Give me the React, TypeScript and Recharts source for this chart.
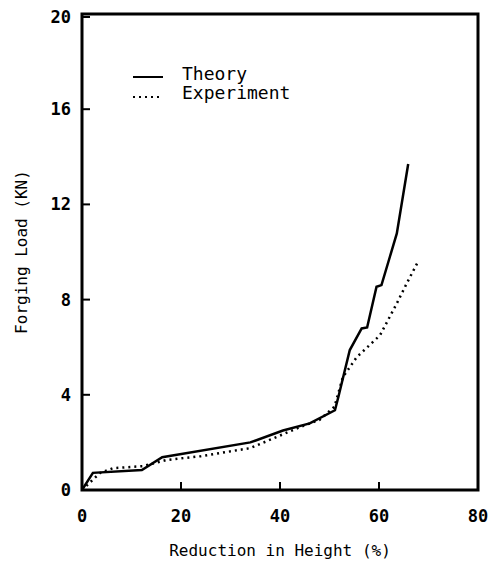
import { LineChart, Line, XAxis, YAxis, ReferenceArea, Legend, Label } from 'recharts'

// Theory curve (solid)
const theoryX = [0, 2.2, 12.1, 16.2, 34, 40.6, 46, 51.1, 51.8, 54.1, 56.5, 57.6, 59.5, 60.5, 62.2, 63.6, 65.9]
const theoryY = [0, 0.72, 0.84, 1.38, 2.0, 2.5, 2.8, 3.35, 3.92, 5.88, 6.79, 6.83, 8.54, 8.61, 9.8, 10.78, 13.7]

// Experiment curve (dotted)
const expX = [0, 3.6, 6.3, 12.3, 17, 24, 34, 44, 48, 51, 52.7, 55.5, 60.2, 63.6, 65.6, 67.7]
const expY = [0, 0.71, 0.92, 1.0, 1.26, 1.42, 1.76, 2.64, 2.95, 3.5, 4.74, 5.58, 6.5, 7.84, 8.68, 9.52]

const xTicks = [0, 20, 40, 60, 80]
const yTicks = [0, 4, 8, 12, 16, 20]

const theory = theoryX.map((x, i) => ({ x, y: theoryY[i] }))
const experiment = expX.map((x, i) => ({ x, y: expY[i] }))

const FONT = '"DejaVu Sans Mono", monospace'

function YTick({ x, y, payload }: any) {
  return (
    <g>
      <line x1={x} x2={x + 8} y1={y} y2={y} stroke="#000" strokeWidth={2} />
      <text x={x - 11} y={y} dy={6} textAnchor="end" fontSize={17} fontWeight="bold" fontFamily={FONT} fill="#000">
        {payload.value}
      </text>
    </g>
  )
}

function XTick({ x, y, payload }: any) {
  return (
    <g>
      <line x1={x} x2={x} y1={y} y2={y - 8} stroke="#000" strokeWidth={2} />
      <text x={x} y={y + 32} textAnchor="middle" fontSize={17} fontWeight="bold" fontFamily={FONT} fill="#000">
        {payload.value}
      </text>
    </g>
  )
}

function LegendBox() {
  return (
    <svg width={200} height={48}>
      <line x1={5} x2={35} y1={14} y2={14} stroke="#000" strokeWidth={2} />
      <text x={54} y={17} fontSize={18} fontFamily={FONT} fill="#000">Theory</text>
      <line x1={5} x2={32} y1={34} y2={34} stroke="#000" strokeWidth={2} strokeDasharray="2 4" />
      <text x={54} y={36} fontSize={18} fontFamily={FONT} fill="#000">Experiment</text>
    </svg>
  )
}

export default function App() {
  return (
    <div style={{ width: 481, height: 557, fontFamily: FONT }}>
      <LineChart width={481} height={557} margin={{ top: 6, right: 11, left: 24, bottom: 45 }}>
        <XAxis
          type="number"
          dataKey="x"
          domain={[0, 80]}
          ticks={xTicks}
          tick={<XTick />}
          tickLine={false}
          tickSize={0}
          tickMargin={0}
          height={30}
          axisLine={false}
        >
          <Label
            value="Reduction in Height (%)"
            position="bottom"
            offset={25}
            style={{ fontSize: 16, fontFamily: FONT, fill: '#000' }}
          />
        </XAxis>
        <YAxis
          type="number"
          dataKey="y"
          domain={[0, 20]}
          ticks={yTicks}
          tick={<YTick />}
          tickLine={false}
          tickSize={0}
          tickMargin={0}
          width={50}
          axisLine={false}
        >
          <Label
            value="Forging Load (KN)"
            angle={-90}
            position="insideLeft"
            offset={-11}
            style={{ fontSize: 16, fontFamily: FONT, fill: '#000', textAnchor: 'middle' }}
          />
        </YAxis>
        <ReferenceArea x1={0} x2={80} y1={0} y2={20} fill="none" stroke="#000" strokeWidth={3} ifOverflow="visible" />
        <Legend
          layout="vertical"
          align="center"
          verticalAlign="middle"
          content={<LegendBox />}
          wrapperStyle={{ position: 'absolute', left: 120, top: 55, width: 200 }}
        />
        <Line
          data={theory}
          dataKey="y"
          type="linear"
          stroke="#000"
          strokeWidth={2.5}
          dot={false}
          isAnimationActive={false}
        />
        <Line
          data={experiment}
          dataKey="y"
          type="linear"
          stroke="#000"
          strokeWidth={2.5}
          strokeDasharray="2 4"
          dot={false}
          isAnimationActive={false}
        />
      </LineChart>
    </div>
  )
}
